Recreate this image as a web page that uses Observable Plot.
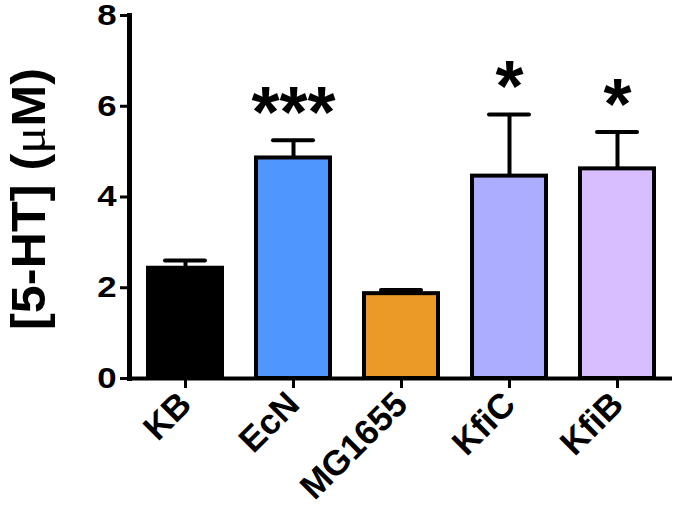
<!DOCTYPE html>
<html><head><meta charset="utf-8">
<script src="https://cdn.jsdelivr.net/npm/d3@7"></script>
<script src="https://cdn.jsdelivr.net/npm/@observablehq/plot@0.6"></script>
<style>body{margin:0;background:#fff}</style>
</head><body><div id="chart"></div>
<script>
const strains = ["KB", "EcN", "MG1655", "KfiC", "KfiB"];
const means = [2.43, 4.86, 1.87, 4.46, 4.62];
const errs = [0.17, 0.39, 0.08, 1.36, 0.81];
const stars = ["", "***", "", "*", "*"];
const colors = ["#000000", "#4F97FE", "#EA9A26", "#ADADFF", "#D9BEFF"];
const yTicks = [0, 2, 4, 6, 8];
const yLabelParts = ["[5-HT] (", "\u03BC", "M)"];
const yLabel = yLabelParts.join("");

const data = strains.map((s, i) => ({strain: s, mean: means[i], top: means[i] + errs[i], star: stars[i]}));

const chart = Plot.plot({
  width: 675,
  height: 515,
  marginLeft: 129,
  marginRight: 3,
  marginTop: 15,
  marginBottom: 137,
  style: {fontFamily: "'Liberation Sans', Arial, sans-serif", background: "#fff", color: "#000"},
  x: {domain: strains, paddingInner: 0.28, paddingOuter: 0.14},
  y: {domain: [0, 8]},
  color: {domain: strains, range: colors},
  marks: [
    Plot.ruleX(data, {x: "strain", y1: "mean", y2: "top", stroke: "#000", strokeWidth: 4}),
    Plot.tickY(data, {x: "strain", y: "top", stroke: "#000", strokeWidth: 4, insetLeft: 19, insetRight: 19, strokeLinecap: "round"}),
    Plot.barY(data, {x: "strain", y: "mean", fill: "strain", stroke: "#000", strokeWidth: 4, insetLeft: 2, insetRight: 2}),
    Plot.text(data, {x: "strain", y: "top", text: "star", fontSize: 72, fontWeight: "bold", lineAnchor: "bottom", dy: -3}),
    Plot.axisY({ticks: yTicks, tickSize: 9, tickPadding: 4, fontSize: 29, fontWeight: "bold", label: null, strokeWidth: 3}),
    Plot.axisX({tickRotate: -45, tickSize: 10, tickPadding: 10, fontSize: 35, fontWeight: "bold", label: null, strokeWidth: 3}),
    Plot.ruleY([0], {strokeWidth: 4}),
    Plot.frame({anchor: "left", strokeWidth: 5}),
    Plot.text([yLabel], {frameAnchor: "left", rotate: -90, dx: -100, dy: 2, fontSize: 48, fontWeight: "bold", lineAnchor: "middle", textAnchor: "middle"})
  ]
});
document.getElementById("chart").appendChild(chart);

// widen the y tick labels a little, as in the reference
d3.select(chart).selectAll('g[aria-label="y-axis tick label"] text').each(function() {
  const w = this.getComputedTextLength();
  this.setAttribute("textLength", w * 1.2);
  this.setAttribute("lengthAdjust", "spacingAndGlyphs");
});
// y label: thin Greek mu, fitted length
d3.select(chart).selectAll("text").filter(function() { return this.textContent === yLabel; }).each(function() {
  const t = d3.select(this);
  t.text(null);
  yLabelParts.forEach((p, i) => {
    const s = t.append("tspan").text(p);
    if (i === 1) s.attr("font-weight", "normal").attr("font-family", "'Liberation Serif', serif");
  });
  this.setAttribute("textLength", 262);
  this.setAttribute("lengthAdjust", "spacingAndGlyphs");
});
</script>
</body></html>
